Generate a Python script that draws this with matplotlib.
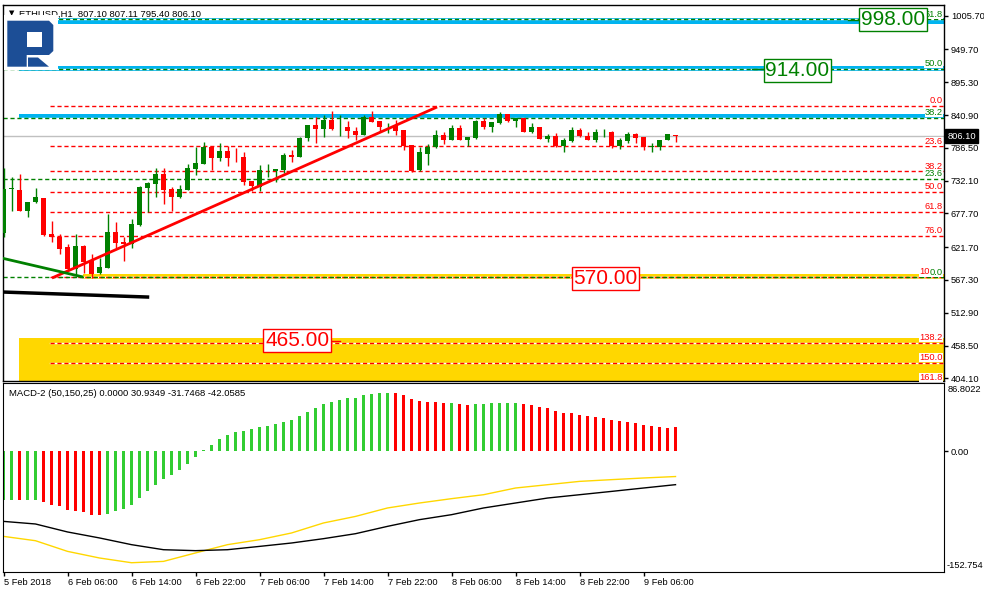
import numpy as np
import matplotlib.pyplot as plt
from matplotlib.patches import Rectangle, Polygon

plt.rcParams['font.family'] = ['Liberation Sans', 'DejaVu Sans']

# ETHUSD H1 candles, 5 Feb 22:00 -> 9 Feb 10:00
opens = [645.2, 718.2, 716.5, 681.7, 696.6, 703.3, 643.5, 638.6, 622.0, 585.5,
         623.6, 600.4, 578.8, 587.1, 646.9, 630.3, 627.0, 658.5, 719.9, 726.5,
         743.1, 718.2, 704.9, 716.5, 751.4, 759.7, 787.9, 769.6, 781.2, 771.5,
         771.3, 731.5, 721.5, 749.0, 748.1, 749.7, 774.6, 771.3, 802.8, 824.4,
         817.7, 832.7, 820.5, 821.0, 814.4, 807.8, 837.6, 831.0, 822.0, 824.4,
         816.1, 791.2, 749.7, 776.3, 787.9, 807.8, 799.5, 819.4, 799.5, 802.8,
         831.0, 821.0, 827.7, 842.6, 831.0, 836.0, 812.8, 821.0, 801.1, 806.1,
         789.5, 797.8, 816.1, 806.1, 799.5, 812.0, 812.8, 789.5, 797.8, 809.4,
         804.5, 787.9, 787.9, 799.5, 807.10]
highs = [753.0, 738.1, 743.1, 696.6, 719.9, 704.0, 665.1, 643.5, 627.0, 643.5,
         625.3, 610.4, 603.7, 676.7, 663.4, 638.6, 668.4, 723.2, 729.8, 753.0,
         753.0, 721.5, 724.8, 759.7, 787.9, 796.2, 789.0, 794.5, 789.5, 786.2,
         779.6, 731.5, 758.0, 759.7, 751.4, 777.9, 782.9, 804.5, 824.4, 837.6,
         841.0, 847.6, 841.0, 831.0, 821.0, 841.0, 847.6, 831.0, 827.7, 832.7,
         816.1, 791.2, 787.9, 792.9, 816.1, 812.8, 824.4, 824.4, 804.5, 832.7,
         836.0, 829.3, 845.9, 842.6, 836.0, 836.0, 827.7, 821.0, 809.4, 811.1,
         802.8, 821.0, 819.4, 812.8, 817.7, 817.7, 814.4, 802.8, 812.8, 811.1,
         804.5, 794.5, 799.5, 809.4, 807.11]
lows = [638.6, 681.7, 681.0, 671.7, 695.0, 640.0, 630.3, 610.4, 583.8, 575.5,
        578.8, 570.6, 577.2, 587.0, 620.3, 598.7, 620.3, 656.8, 680.0, 704.9,
        693.3, 681.7, 703.3, 716.0, 741.4, 759.0, 749.7, 764.6, 756.4, 763.0,
        724.8, 714.9, 714.9, 738.0, 729.8, 744.8, 763.0, 771.0, 797.8, 794.5,
        804.5, 816.1, 806.1, 802.8, 799.5, 807.0, 829.0, 812.8, 811.1, 807.8,
        782.9, 746.0, 748.1, 758.0, 787.0, 792.9, 799.0, 799.0, 789.5, 801.1,
        817.7, 812.8, 826.0, 829.3, 821.0, 812.8, 811.1, 801.1, 796.2, 787.9,
        779.6, 797.0, 804.5, 799.0, 796.2, 804.5, 786.2, 784.5, 794.5, 794.5,
        782.9, 779.6, 782.9, 799.0, 795.40]
closes = [718.2, 718.8, 681.7, 696.6, 704.9, 641.9, 638.6, 618.7, 585.5, 623.6,
          597.1, 577.2, 588.8, 646.9, 628.6, 627.0, 660.1, 721.5, 728.2, 743.1,
          716.5, 704.9, 718.2, 753.0, 761.3, 787.9, 769.6, 781.2, 769.6, 771.0,
          729.8, 723.2, 749.7, 750.0, 751.4, 774.6, 771.3, 802.8, 824.4, 817.7,
          832.7, 817.7, 821.0, 814.4, 807.8, 837.6, 829.3, 821.0, 822.7, 814.4,
          789.5, 748.1, 779.6, 787.9, 807.8, 799.5, 819.4, 799.5, 804.5, 831.0,
          821.0, 829.3, 842.6, 831.0, 836.0, 812.8, 821.0, 801.1, 806.1, 789.5,
          799.5, 816.1, 806.1, 799.5, 812.8, 812.8, 789.5, 799.5, 809.4, 802.8,
          787.9, 789.5, 799.5, 809.4, 806.10]

# MACD-2 (50,150,25)
macd_hist = [-62, -61, -62, -62, -61, -64.5, -67.5, -69.6, -74.6, -75.9,
             -76.7, -81, -81, -78.8, -75.9, -72.9, -68.3, -59, -50.5, -42.1,
             -34.5, -29.4, -23.1, -15.5, -7.5, 2.3, 8.6, 16.2, 21.3, 25.1,
             26.4, 28, 30.5, 32.7, 34.4, 37.4, 40.3, 45.4, 50, 55.1,
             60.6, 63.1, 65.7, 68.2, 68.2, 72, 73.3, 74.5, 74.5, 74.5,
             72, 66.9, 64.4, 63.1, 63.1, 61.5, 61.9, 60.6, 59.3, 60.6,
             60.6, 61.9, 61.9, 61.9, 61.9, 60.6, 59.3, 56.8, 55.5, 51.7,
             49.2, 49.2, 46.6, 45.4, 44.1, 42.8, 40.3, 39, 37.8, 36.5,
             34, 32.7, 31.4, 30.2, 30.93]
hist_dir = 'GGRGGRRRRRRRR' + 'G' * 36 + 'R' * 7 + 'G' + 'RR' + 'G' * 6 + 'R' * 20
line_idx = list(range(0, 85, 4))
macd_black = [-88.6, -91.9, -102, -109.6, -118.1, -124.5, -125.7, -124.5, -120.3, -116,
              -110.5, -104.2, -94.9, -86.4, -80.1, -71.6, -65.3, -59, -54.8, -50.6,
              -46.3, -42.06]
macd_yellow = [-107.6, -113.1, -126.6, -135, -141, -139.3, -128.6, -118.1, -111.8, -103.3,
               -90.6, -82.3, -71.6, -65.3, -59.8, -54.8, -46.3, -42.1, -37.9, -35.7,
               -33.6, -31.75]

price_ticks = [1005.70, 949.70, 895.30, 840.90, 786.50, 732.10, 677.70, 621.70,
               567.30, 512.90, 458.50, 404.10]
time_labels = ['5 Feb 2018', '6 Feb 06:00', '6 Feb 14:00', '6 Feb 22:00', '7 Feb 06:00',
               '7 Feb 14:00', '7 Feb 22:00', '8 Feb 06:00', '8 Feb 14:00', '8 Feb 22:00',
               '9 Feb 06:00']

# fibonacci grids
red_fib_levels = [0.0, 23.6, 38.2, 50.0, 61.8, 76.0, 100.0, 138.2, 150.0, 161.8]
red_fib_high, red_fib_low = 856.0, 572.0
green_fib_levels = [61.8, 50.0, 38.2, 23.6, 0.0]
green_fib_base, green_fib_range = 571.5, 693.0

blue_zones = [997.5, 918.0, 838.5]
last_price = 806.10

W, H = 984, 593
fig = plt.figure(figsize=(W / 100, H / 100), dpi=100)


def px_rect(l, t, r, b):
    return [l / W, 1 - b / H, (r - l) / W, (b - t) / H]


ax = fig.add_axes(px_rect(3, 5, 944, 381))
am = fig.add_axes(px_rect(3, 383, 944, 572))
xl = (-0.0625, 117.56)
n = len(opens)
x = np.arange(n)

# --- price panel ---
ax.set_xlim(*xl)
ax.set_ylim(399.7, 1023.5)

for c in blue_zones:
    ax.add_patch(Rectangle((1.95, c - 4.75), xl[1] - 1.95, 9.5, color='#00b4f0', lw=0, zorder=1))
ax.add_patch(Rectangle((9.9, 568.3), xl[1] - 9.9, 9.7, color='#ffd700', lw=0, zorder=1))
ax.add_patch(Rectangle((1.95, 380), xl[1] - 1.95, 91.5, color='#ffd700', lw=0, zorder=1))
ax.axhline(last_price, color='#c0c0c0', lw=1, zorder=1.5)


def fib_label(txt, p, col, dx=-1, z=5):
    ax.annotate(txt, (1, p), xycoords=('axes fraction', 'data'), xytext=(dx, 0.5),
                textcoords='offset points', ha='right', va='bottom', color=col,
                fontsize=6.7, annotation_clip=False, zorder=z,
                bbox=dict(fc='white', ec='none', pad=0.1))


for lv in red_fib_levels:
    p = red_fib_high - lv / 100 * (red_fib_high - red_fib_low)
    ax.plot([5.8, xl[1]], [p, p], color='white', lw=1, zorder=2)
    ax.plot([5.8, xl[1]], [p, p], color='red', lw=1, ls=(0, (3, 2)), zorder=2.1)
    if lv == 100.0:
        # the green 0.0 label covers the tail of this one
        fib_label('10', p, 'red', dx=-10.6)
    else:
        fib_label(f'{lv:.1f}', p, 'red')
for lv in green_fib_levels:
    p = green_fib_base + lv / 100 * green_fib_range
    ax.plot(xl, [p, p], color='white', lw=1, zorder=2)
    ax.plot(xl, [p, p], color='green', lw=1, ls=(0, (3, 2)), zorder=2.1)
    fib_label(f'{lv:.1f}', p, 'green', z=5.1)

# candles
up = [c >= o for o, c in zip(opens, closes)]
cols = ['#008000' if u else '#ff0000' for u in up]
ax.vlines(x, lows, highs, colors=cols, lw=1, zorder=3)
bottoms = [min(o, c) for o, c in zip(opens, closes)]
heights = [max(abs(c - o), 1.0) for o, c in zip(opens, closes)]
ax.bar(x, heights, bottom=bottoms, width=0.62, color=cols, lw=0, zorder=3.1)

# drawn lines
ax.plot([6.06, 54.2], [570.6, 854.3], color='red', lw=2, zorder=4, solid_capstyle='butt')
ax.plot([-0.4, 9.8], [604.2, 572.7], color='#008000', lw=2, zorder=4)
ax.plot([-0.06, 18], [547.3, 539.0], color='black', lw=2.5, zorder=4)


# boxed price labels
def price_box(xi, p, txt, col):
    ax.text(xi, p, txt, color=col, fontsize=15, ha='center', va='center', zorder=6,
            bbox=dict(boxstyle='square,pad=0.08', fc='white', ec=col, lw=1))


price_box(111.2, 999.4, '998.00', 'green')
price_box(99.25, 914.8, '914.00', 'green')
price_box(75.25, 569.7, '570.00', 'red')
price_box(36.7, 466.9, '465.00', 'red')
ax.plot([105.6, 107.3], [998.5, 998.5], color='green', lw=1, zorder=5)
ax.plot([93.6, 95.3], [917.0, 917.0], color='green', lw=1, zorder=5)
ax.plot([40.6, 42.0], [466.0, 466.0], color='red', lw=1, zorder=5)

ax.yaxis.tick_right()
ax.set_yticks(price_ticks)
ax.set_yticklabels([f'{v:.2f}' for v in price_ticks])
ax.tick_params(axis='y', length=3, width=1, pad=2, labelsize=6.7, colors='black')
ax.set_xticks([])
for s in ax.spines.values():
    s.set_linewidth(1)
ax.annotate(f'{last_price:.2f}', (1, last_price), xycoords=('axes fraction', 'data'),
            xytext=(2.5, 0), textcoords='offset points', ha='left', va='center',
            color='white', fontsize=6.7, annotation_clip=False,
            bbox=dict(boxstyle='square,pad=0.25', fc='black', ec='black'))

ax.text(0.006, 0.985, '\u25bc', transform=ax.transAxes, fontsize=5, va='top', ha='left',
        family='DejaVu Sans')
ax.text(0.017, 0.988, 'ETHUSD,H1  807.10 807.11 795.40 806.10', transform=ax.transAxes,
        fontsize=6.8, va='top', ha='left')

# --- MACD panel ---
am.set_xlim(*xl)
am.set_ylim(-152.754, 86.8022)
hcols = ['#32cd32' if d == 'G' else '#ff0000' for d in hist_dir]
am.bar(x, macd_hist, width=0.37, color=hcols, lw=0)
am.plot(line_idx, macd_yellow, color='#ffd700', lw=1)
am.plot(line_idx, macd_black, color='black', lw=1)
am.yaxis.tick_right()
am.set_yticks([0])
am.set_yticklabels(['0.00'])
am.tick_params(axis='y', length=3, width=1, pad=2, labelsize=6.7)
am.annotate('86.8022', (1, 86.8022), xycoords=('axes fraction', 'data'), xytext=(2.5, -1.5),
            textcoords='offset points', ha='left', va='top', fontsize=6.7, annotation_clip=False)
am.annotate('-152.754', (1, -152.754), xytext=(2, 1.5), xycoords=('axes fraction', 'data'),
            textcoords='offset points', ha='left', va='bottom', fontsize=6.7, annotation_clip=False)
am.set_xticks(range(0, 81, 8))
am.set_xticklabels(time_labels, ha='left')
am.tick_params(axis='x', length=3, width=1, pad=1.5, labelsize=6.7)
am.text(0.006, 0.97, 'MACD-2 (50,150,25) 0.0000 30.9349 -31.7468 -42.0585',
        transform=am.transAxes, fontsize=6.8, va='top', ha='left')

# --- logo overlay (pixel coordinates) ---
ov = fig.add_axes([0, 0, 1, 1], zorder=10)
ov.set_xlim(0, W)
ov.set_ylim(H, 0)
ov.axis('off')
ov.add_patch(Rectangle((4, 14.5), 54, 55, fc='white', ec='none'))
ov.add_patch(Polygon([(7.3, 20.7), (49, 20.7), (53.3, 25), (53.3, 51), (49, 55), (26.7, 55),
                      (26.7, 66.7), (7.3, 66.7)], closed=True, fc='#1c4e96', ec='none'))
ov.add_patch(Rectangle((26.7, 31.7), 15, 15, fc='white', ec='none'))
ov.add_patch(Polygon([(28, 57.5), (38, 57.5), (49, 66.7), (28, 66.7)], closed=True,
                     fc='#1c4e96', ec='none'))

fig.savefig('out.png', dpi=100)
